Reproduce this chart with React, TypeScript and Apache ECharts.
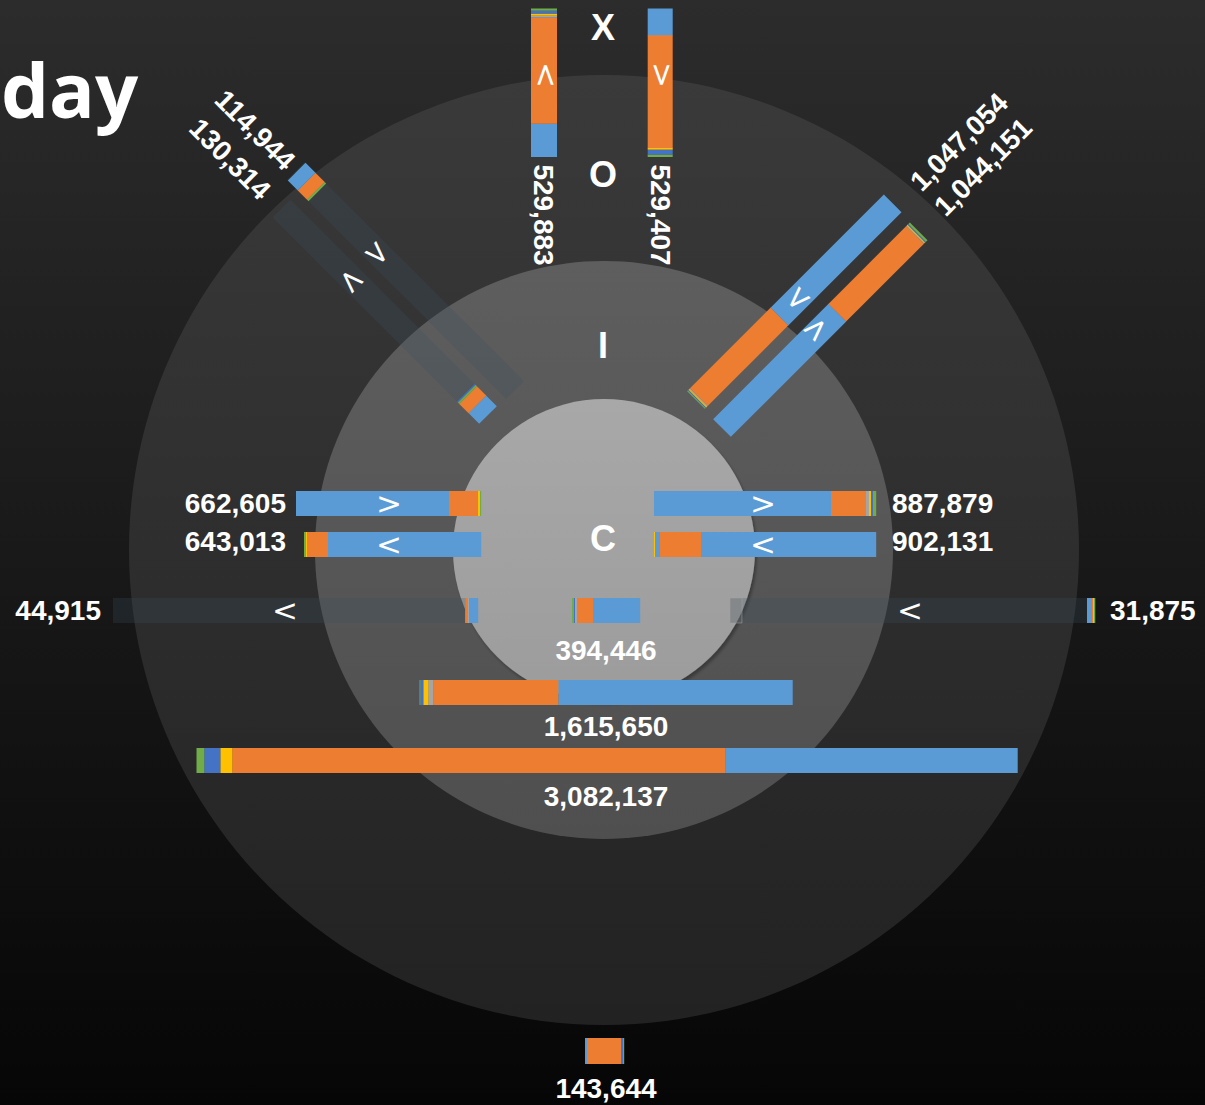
import React, { useEffect, useRef } from 'react';
import * as echarts from 'echarts';

// ---------- data ----------
const UNITS_PER_PX = 3600; // value units represented by one pixel of bar length
const PALETTE = ['#5b9bd5', '#ed7d31', '#a5a5a5', '#ffc000', '#4472c4', '#70ad47'];
const BLUE = 0, ORANGE = 1, GRAY = 2, YELLOW = 3, NAVY = 4, GREEN = 5;

const barLabels = [
  '529,883', '529,407', '1,047,054', '1,044,151', '114,944', '130,314',
  '662,605', '643,013', '887,879', '902,131', '44,915', '394,446', '31,875',
  '1,615,650', '3,082,137', '143,644',
];

// segments listed from the anchored end of each bar: [colour, value]
const segExitOut = [[BLUE, 120000], [ORANGE, 381600], [GRAY, 7200], [YELLOW, 7200], [NAVY, 10800], [GREEN, 7200]];
const segExitIn = [[GREEN, 8600], [NAVY, 18000], [YELLOW, 5800], [ORANGE, 405700], [BLUE, 96100]];
const segNeIn = [[GREEN, 3600], [NAVY, 3600], [YELLOW, 3600], [GRAY, 3600], [ORANGE, 410400], [BLUE, 576000]];
const segNeOut = [[BLUE, 586800], [ORANGE, 396000], [GRAY, 3600], [YELLOW, 3600], [NAVY, 3600], [GREEN, 7200]];
const segNwIn = [[GREEN, 7200], [ORANGE, 46800], [BLUE, 50400]];
const segNwOut = [[BLUE, 54000], [ORANGE, 46800], [GREEN, 7200], [NAVY, 3600]];
const segWestOut = [[BLUE, 550800], [ORANGE, 104400], [YELLOW, 7200], [GREEN, 3600]];
const segWestIn = [[GREEN, 7200], [YELLOW, 3600], [ORANGE, 75600], [BLUE, 550800]];
const segEastIn = [[BLUE, 637200], [ORANGE, 126000], [GRAY, 10800], [YELLOW, 7200], [NAVY, 7200], [GREEN, 10800]];
const segEastOut = [[YELLOW, 3600], [GREEN, 3600], [BLUE, 14400], [ORANGE, 147600], [BLUE, 630000]];
const segRowWest = [[GREEN, 3600], [ORANGE, 7200], [GRAY, 3600], [BLUE, 32400]];
const segRowCentre = [[GREEN, 7200], [NAVY, 3600], [GRAY, 7200], [ORANGE, 57600], [BLUE, 169200]];
const segRowEast = [[BLUE, 18000], [ORANGE, 3600], [YELLOW, 3600], [GREEN, 3600]];
const segInner = [[GREEN, 3600], [NAVY, 10800], [YELLOW, 18000], [GRAY, 18000], [ORANGE, 450000], [BLUE, 842400]];
const segOuter = [[GREEN, 28800], [NAVY, 57600], [YELLOW, 43200], [ORANGE, 1774800], [BLUE, 1051200]];
const segBottom = [[BLUE, 7200], [ORANGE, 122400], [NAVY, 7200], [GREEN, 3600]];

const barSegments = [
  segExitOut, segExitIn, segNeIn, segNeOut, segNwIn, segNwOut,
  segWestOut, segWestIn, segEastIn, segEastOut, segRowWest, segRowCentre, segRowEast,
  segInner, segOuter, segBottom,
];

const ringLetters = ['X', 'O', 'I', 'C'];
const titleText = 'day';

// ---------- layout (positions / sizes) ----------
const CX = 604, CY = 550;
const BAR_LAYOUT = [
  { x: 544, y: 157, angle: 90, w: 26 },
  { x: 660.2, y: 157, angle: 90, w: 25 },
  { x: 696, y: 400, angle: 45, w: 25 },
  { x: 722, y: 428, angle: 45, w: 25 },
  { x: 317.3, y: 192.3, angle: 135, w: 25 },
  { x: 488, y: 415, angle: 135, w: 25 },
  { x: 296, y: 503.5, angle: 0, w: 25 },
  { x: 304, y: 544.5, angle: 0, w: 25 },
  { x: 654, y: 503.5, angle: 0, w: 25 },
  { x: 654, y: 544.5, angle: 0, w: 25 },
  { x: 465, y: 610.5, angle: 0, w: 25 },
  { x: 572, y: 610.5, angle: 0, w: 25 },
  { x: 1087, y: 610.5, angle: 0, w: 25 },
  { x: 419.5, y: 692.5, angle: 0, w: 25 },
  { x: 196.5, y: 760.5, angle: 0, w: 25 },
  { x: 585, y: 1051, angle: 0, w: 26 },
];
const LABEL_LAYOUT = [
  { x: 543.5, y: 215, rot: -90, align: 'center' },
  { x: 660.5, y: 215, rot: -90, align: 'center' },
  { x: 959, y: 142, rot: 45, align: 'center' },
  { x: 983, y: 167, rot: 45, align: 'center' },
  { x: 255, y: 130, rot: -45, align: 'center' },
  { x: 230, y: 159, rot: -45, align: 'center' },
  { x: 286, y: 503, rot: 0, align: 'right' },
  { x: 286, y: 541, rot: 0, align: 'right' },
  { x: 892, y: 503, rot: 0, align: 'left' },
  { x: 892, y: 541, rot: 0, align: 'left' },
  { x: 101, y: 610, rot: 0, align: 'right' },
  { x: 606, y: 650, rot: 0, align: 'center' },
  { x: 1110, y: 610, rot: 0, align: 'left' },
  { x: 606, y: 726, rot: 0, align: 'center' },
  { x: 606, y: 796, rot: 0, align: 'center' },
  { x: 606, y: 1088, rot: 0, align: 'center' },
];
const LETTER_Y = [27, 174, 345, 538];
const ARROWS = [
  { t: '>', x: 544, y: 75, rot: 90 },
  { t: '<', x: 660, y: 75, rot: 90 },
  { t: '<', x: 797, y: 298, rot: 45 },
  { t: '>', x: 815, y: 328, rot: 45 },
  { t: '>', x: 378, y: 253, rot: -45 },
  { t: '<', x: 352, y: 280, rot: -45 },
  { t: '>', x: 389, y: 503, rot: 0 },
  { t: '<', x: 389, y: 544, rot: 0 },
  { t: '>', x: 763, y: 503, rot: 0 },
  { t: '<', x: 763, y: 544, rot: 0 },
  { t: '<', x: 285, y: 610, rot: 0 },
  { t: '<', x: 910, y: 610, rot: 0 },
];
const TRACKS = [
  { x: 113, y: 610.5, angle: 0, len: 365 },
  { x: 730, y: 610.5, angle: 0, len: 366 },
  { x: 515, y: 390, angle: 135, len: 310 },
  { x: 488, y: 415, angle: 135, len: 292 },
];

const FONT_LABEL = 'bold 28px "Liberation Sans", Arial, sans-serif';

function buildData() {
  const out: number[][] = [];
  barSegments.forEach((segs, bi) => {
    let start = 0;
    segs.forEach(([ci, v]) => {
      out.push([start, v, bi, ci]);
      start += v;
    });
  });
  return out;
}

function textEl(text: string, x: number, y: number, rotDeg: number, align: string, font: string, z = 10) {
  return {
    type: 'text',
    x, y,
    rotation: (rotDeg * Math.PI) / 180,
    z,
    silent: true,
    style: {
      text, font, fill: '#ffffff',
      align, verticalAlign: 'middle',
      textAlign: align, textVerticalAlign: 'middle',
    },
  };
}

export default function App() {
  const ref = useRef<HTMLDivElement>(null);
  useEffect(() => {
    if (!ref.current) return;
    const chart = echarts.init(ref.current, null, { renderer: 'svg' });
    const W = 1205, H = 1105;
    const graphics: any[] = [];
    graphics.push({
      type: 'rect', z: 0, silent: true,
      shape: { x: 0, y: 0, width: W, height: H },
      style: { fill: new echarts.graphic.LinearGradient(0, 0, 0, 1, [
        { offset: 0, color: '#2c2c2c' }, { offset: 1, color: '#060606' }]) },
    });
    graphics.push({
      type: 'circle', z: 0, silent: true, shape: { cx: CX, cy: CY, r: 475 },
      style: { fill: new echarts.graphic.LinearGradient(0, 0, 0, 1, [
        { offset: 0, color: '#3a3a3a' }, { offset: 1, color: '#222222' }]) },
    });
    graphics.push({
      type: 'circle', z: 0, silent: true, shape: { cx: CX, cy: CY, r: 289 },
      style: { fill: new echarts.graphic.LinearGradient(0, 0, 0, 1, [
        { offset: 0, color: '#5e5e5e' }, { offset: 1, color: '#4f4f4f' }]) },
    });
    graphics.push({
      type: 'circle', z: 0, silent: true, shape: { cx: CX, cy: CY, r: 151 },
      style: {
        fill: new echarts.graphic.LinearGradient(0, 0, 0, 1, [
          { offset: 0, color: '#a8a8a8' }, { offset: 1, color: '#9c9c9c' }]),
        shadowBlur: 3, shadowOffsetX: 2, shadowOffsetY: 3, shadowColor: 'rgba(0,0,0,0.3)',
      },
    });
    TRACKS.forEach((t) => {
      graphics.push({
        type: 'rect', z: 1, silent: true, x: t.x, y: t.y,
        rotation: (t.angle * Math.PI) / 180,
        shape: { x: 0, y: -12.5, width: t.len, height: 25 },
        style: { fill: 'rgba(60,78,96,0.25)' },
      });
    });
    graphics.push({
      type: 'rect', z: 2, silent: true,
      shape: { x: 730, y: 598, width: 12, height: 25 },
      style: { fill: 'rgba(130,130,130,0.3)', stroke: 'rgba(160,160,160,0.55)', lineWidth: 1 },
    });
    graphics.push(textEl(titleText, 1, 88, 0, 'left', 'bold 76px "Open Sans", sans-serif'));
    ringLetters.forEach((l, i) => {
      graphics.push(textEl(l, 603, LETTER_Y[i], 0, 'center', 'bold 36px "Liberation Sans", Arial, sans-serif'));
    });
    barLabels.forEach((lab, i) => {
      const L = LABEL_LAYOUT[i];
      graphics.push(textEl(lab, L.x, L.y, L.rot, L.align, FONT_LABEL));
    });
    ARROWS.forEach((a) => {
      graphics.push(textEl(a.t, a.x, a.y, a.rot, 'center', '31px "DejaVu Sans", "Liberation Sans", sans-serif', 12));
    });

    chart.setOption({
      animation: false,
      grid: { left: 0, right: 0, top: 0, bottom: 0 },
      xAxis: { type: 'value', min: 0, max: W * UNITS_PER_PX, show: false },
      yAxis: { type: 'value', min: 0, max: 1, show: false },
      graphic: { elements: graphics },
      series: [{
        type: 'custom',
        coordinateSystem: 'cartesian2d',
        z: 5,
        clip: false,
        silent: true,
        encode: { x: [0, 1] },
        data: buildData(),
        renderItem: (params: any, api: any) => {
          const start = api.value(0);
          const seg = api.value(1);
          const bi = api.value(2);
          const ci = api.value(3);
          const off = api.size([start, 0])[0];
          const len = api.size([seg, 0])[0];
          const L = BAR_LAYOUT[bi];
          return {
            type: 'rect',
            x: L.x, y: L.y,
            rotation: (L.angle * Math.PI) / 180,
            shape: { x: off, y: -L.w / 2, width: len + 0.2, height: L.w },
            style: { fill: PALETTE[ci] },
          };
        },
      }],
    });
    return () => chart.dispose();
  }, []);
  return <div ref={ref} style={{ position: 'absolute', left: 0, top: 0, width: 1205, height: 1105 }} />;
}
